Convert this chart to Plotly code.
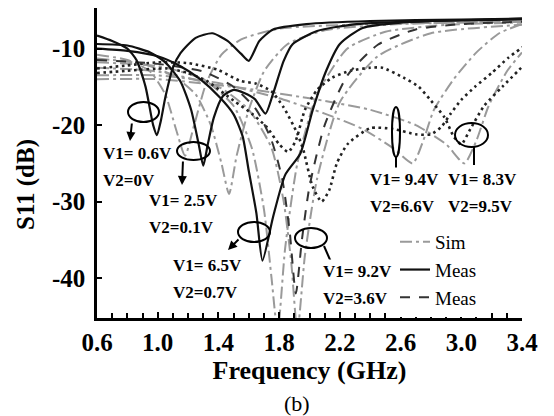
import plotly.graph_objects as go

# ---------------- data ----------------
# Measured, solid black
m1_f = [0.6, 0.7, 0.8, 0.86, 0.92, 0.97, 0.995, 1.02, 1.05, 1.1, 1.15, 1.25, 1.36, 1.46, 1.55, 1.6, 1.67, 1.76, 1.98, 2.4, 3.0, 3.4]
m1_db = [-8.3, -9.0, -10.0, -11.5, -15.0, -20.0, -21.3, -19.5, -16.4, -12.5, -10.6, -8.6, -8.0, -9.0, -10.7, -11.6, -9.0, -7.5, -6.8, -6.4, -6.2, -6.1]

m2_f = [0.6, 0.8, 0.95, 1.05, 1.15, 1.22, 1.27, 1.3, 1.33, 1.37, 1.43, 1.5, 1.57, 1.64, 1.71, 1.76, 1.83, 1.89, 2.05, 2.31, 2.8, 3.4]
m2_db = [-9.4, -9.6, -10.5, -11.8, -14.3, -18.0, -22.5, -25.3, -22.5, -19.0, -16.2, -15.4, -15.8, -16.6, -18.5, -15.9, -11.6, -9.4, -7.7, -6.8, -6.4, -6.2]

m3_f = [0.6, 0.8, 1.0, 1.15, 1.28, 1.41, 1.5, 1.56, 1.6, 1.65, 1.69, 1.76, 1.84, 1.94, 2.02, 2.11, 2.2, 2.35, 2.6, 3.0, 3.4]
m3_db = [-10.0, -10.3, -11.0, -12.3, -14.0, -16.4, -18.6, -21.5, -26.0, -31.5, -37.7, -32.0, -26.5, -23.7, -18.1, -12.9, -9.4, -7.3, -6.6, -6.3, -6.1]

# Measured, black dashed
k1_f = [0.6, 1.0, 1.3, 1.5, 1.65, 1.75, 1.82, 1.87, 1.91, 1.95, 2.0, 2.1, 2.25, 2.45, 2.7, 3.0, 3.4]
k1_db = [-11.5, -12.0, -13.0, -15.0, -18.0, -22.0, -27.0, -34.0, -42.0, -35.0, -28.0, -20.0, -13.5, -9.5, -7.5, -6.8, -6.5]

# Measured, black dotted
da_f = [0.6, 0.8, 1.0, 1.2, 1.4, 1.54, 1.65, 1.75, 1.83, 1.92, 1.96, 2.02, 2.08, 2.13, 2.18, 2.25, 2.4, 2.55, 2.7, 2.8, 2.87, 2.93, 3.0, 3.09, 3.2, 3.31, 3.42]
da_db = [-12.6, -12.2, -11.8, -11.9, -12.8, -14.2, -14.6, -15.6, -17.7, -21.1, -23.3, -28.0, -30.0, -28.5, -25.0, -22.5, -20.4, -20.5, -21.2, -21.2, -20.2, -18.5, -16.7, -15.0, -13.2, -11.2, -9.6]

db_f = [0.6, 0.8, 1.06, 1.2, 1.32, 1.5, 1.62, 1.72, 1.8, 1.86, 1.91, 1.97, 2.05, 2.15, 2.27, 2.4, 2.48, 2.62, 2.72, 2.8, 2.89, 2.95, 3.0, 3.06, 3.15, 3.27, 3.42]
db_db = [-13.2, -12.9, -12.6, -13.2, -14.2, -16.8, -18.5, -20.3, -22.5, -23.5, -22.0, -18.0, -15.4, -13.8, -12.9, -12.5, -12.5, -13.8, -15.0, -16.8, -19.0, -21.5, -22.5, -20.5, -17.5, -15.0, -12.0]

# Simulated, grey dash-dot
s1_f = [0.6, 0.8, 0.95, 1.05, 1.12, 1.18, 1.24, 1.32, 1.42, 1.55, 1.8, 2.4, 3.4]
s1_db = [-10.8, -11.5, -13.0, -16.0, -20.5, -24.0, -20.0, -14.5, -10.8, -8.8, -7.4, -6.8, -6.5]
s2_f = [0.6, 0.9, 1.1, 1.25, 1.35, 1.42, 1.47, 1.52, 1.6, 1.7, 1.85, 2.1, 2.6, 3.4]
s2_db = [-11.3, -12.0, -13.5, -16.0, -20.0, -25.0, -29.0, -24.0, -18.0, -13.0, -9.5, -7.6, -6.8, -6.5]
s3_f = [0.6, 1.0, 1.3, 1.5, 1.62, 1.7, 1.75, 1.79, 1.84, 1.92, 2.05, 2.25, 2.5, 2.9, 3.4]
s3_db = [-11.8, -12.3, -14.0, -17.5, -23.0, -31.0, -40.0, -47.0, -36.0, -25.0, -16.0, -10.0, -7.8, -6.9, -6.6]
s4_f = [0.6, 1.0, 1.4, 1.6, 1.75, 1.83, 1.88, 1.92, 1.97, 2.05, 2.2, 2.45, 2.8, 3.4]
s4_db = [-12.5, -13.0, -15.0, -18.0, -23.0, -30.0, -38.0, -47.0, -37.0, -27.0, -17.0, -11.0, -8.0, -6.9]
s5_f = [0.6, 1.0, 1.4, 1.8, 2.1, 2.35, 2.55, 2.68, 2.75, 2.82, 2.95, 3.1, 3.25, 3.4]
s5_db = [-13.5, -13.5, -14.5, -16.5, -18.5, -20.5, -23.0, -25.0, -22.0, -18.0, -14.0, -10.5, -8.0, -6.8]
s6_f = [0.6, 1.0, 1.5, 2.0, 2.4, 2.7, 2.9, 3.02, 3.1, 3.18, 3.3, 3.4]
s6_db = [-14.0, -14.0, -15.0, -16.5, -18.0, -20.0, -22.5, -25.0, -22.0, -17.5, -13.0, -10.5]

x_ticks = [0.6, 1.0, 1.4, 1.8, 2.2, 2.6, 3.0, 3.4]
x_tick_text = ["0.6", "1.0", "1.4", "1.8", "2.2", "2.6", "3.0", "3.4"]
y_ticks = [-10, -20, -30, -40]
y_tick_text = ["-10", "-20", "-30", "-40"]

labels = [
    ("V1= 0.6V", "V2=0V", 100, 153),
    ("V1= 2.5V", "V2=0.1V", 146, 200),
    ("V1= 6.5V", "V2=0.7V", 170, 265),
    ("V1= 9.2V", "V2=3.6V", 320, 271),
    ("V1= 9.4V", "V2=6.6V", 367, 179),
    ("V1= 8.3V", "V2=9.5V", 445, 179),
]

# ---------------- geometry helpers ----------------
X0, X1 = 0.6, 3.4
Y0, Y1 = -45.2, -4.7
L, R, T, B = 97, 522, 8, 318
W, H = 554, 416


def fx(px):
    return X0 + (px - L) / (R - L) * (X1 - X0)


def fy(py):
    return Y1 - (py - T) / (B - T) * (Y1 - Y0)


SERIF = "Liberation Serif"
SIM_C = "#9a9a9a"
SIM_DASH = "12px,4px,3px,4px"


def bold(size):
    return dict(family=SERIF, size=size, color="black", weight="bold")


fig = go.Figure()

for i, (f, d) in enumerate([(s1_f, s1_db), (s2_f, s2_db), (s3_f, s3_db),
                            (s4_f, s4_db), (s5_f, s5_db), (s6_f, s6_db)]):
    fig.add_trace(go.Scatter(x=f, y=d, mode="lines", name="Sim",
                             line=dict(color=SIM_C, width=2, dash=SIM_DASH, shape="spline", smoothing=0.6),
                             showlegend=(i == 0), legendrank=1))

for f, d in [(da_f, da_db), (db_f, db_db)]:
    fig.add_trace(go.Scatter(x=f, y=d, mode="lines", name="Meas",
                             line=dict(color="#222", width=2.6, dash="2.6px,3.6px", shape="spline", smoothing=0.6),
                             showlegend=False))

fig.add_trace(go.Scatter(x=k1_f, y=k1_db, mode="lines", name="Meas",
                         line=dict(color="#333", width=2, dash="10px,9px", shape="spline", smoothing=0.6),
                         showlegend=True, legendrank=3))

for i, (f, d) in enumerate([(m1_f, m1_db), (m2_f, m2_db), (m3_f, m3_db)]):
    fig.add_trace(go.Scatter(x=f, y=d, mode="lines", name="Meas",
                             line=dict(color="#111", width=2.2, shape="spline", smoothing=0.6),
                             showlegend=(i == 0), legendrank=2))

# ellipses around the resonances
ellipses = [(128, 159, 102, 122), (177, 210, 142, 160), (238, 270, 222, 242),
            (295, 327, 228, 248), (392, 400, 107, 157), (455, 488, 123, 147)]
shapes = []
for (a, b, c, d) in ellipses:
    shapes.append(dict(type="circle", xref="x", yref="y", x0=fx(a), x1=fx(b), y0=fy(d), y1=fy(c),
                       line=dict(color="black", width=2)))
# plain connector lines
for (a, c, b, d) in [(324, 246, 331, 262), (396, 157, 396, 168), (474, 147, 474, 165)]:
    shapes.append(dict(type="line", xref="x", yref="y", x0=fx(a), y0=fy(c), x1=fx(b), y1=fy(d),
                       line=dict(color="black", width=2)))

annotations = []
# arrows pointing at the labels
for (tx, ty, hx, hy) in [(132, 122, 130, 141), (183, 160, 182, 185), (240, 238, 228, 250)]:
    annotations.append(dict(x=fx(hx), y=fy(hy), ax=fx(tx), ay=fy(ty), xref="x", yref="y",
                            axref="x", ayref="y", text="", showarrow=True, arrowhead=2,
                            arrowsize=0.9, arrowwidth=2, arrowcolor="black"))

for (l1, l2, px, py) in labels:
    for txt, yy in [(l1, py), (l2, py + 27)]:
        annotations.append(dict(x=fx(px), y=fy(yy), xref="x", yref="y", text=txt,
                                showarrow=False, xanchor="left", yanchor="middle", bgcolor="white",
                                borderpad=2, font=bold(17)))

# y-axis title (placed slightly below the plot centre, as in the original)
annotations.append(dict(x=(26 - L) / (R - L), y=(B - 185) / (B - T), xref="paper", yref="paper",
                        text="S11 (dB)", textangle=-90, showarrow=False, xanchor="center",
                        yanchor="middle", font=bold(25)))

annotations.append(dict(x=(297 - L) / (R - L), y=(B - 403) / (B - T), xref="paper", yref="paper",
                        text="(b)", showarrow=False, xanchor="center", yanchor="middle",
                        font=dict(family=SERIF, size=22, color="black")))

fig.update_layout(
    width=W, height=H,
    margin=dict(l=L, r=W - R, t=T, b=H - B),
    paper_bgcolor="white", plot_bgcolor="white",
    font=dict(family=SERIF, color="black"),
    shapes=shapes, annotations=annotations,
    legend=dict(x=(395 - L) / (R - L), y=(B - 223) / (B - T), xanchor="left", yanchor="top",
                bgcolor="white", font=dict(family=SERIF, size=19, color="black"),
                tracegroupgap=0, itemwidth=30),
    xaxis=dict(range=[X0, X1], tickvals=x_ticks, ticktext=x_tick_text,
               ticks="inside", ticklen=6, tickwidth=2, tickcolor="black", showline=True, linewidth=2.5,
               linecolor="black", showgrid=False, zeroline=False,
               minor=dict(dtick=0.1, tick0=0.6, ticks="inside", ticklen=5, tickwidth=1.5, tickcolor="black"),
               tickfont=bold(25),
               title=dict(text="Frequency (GHz)", standoff=4, font=bold(26))),
    yaxis=dict(range=[Y0, Y1], tickvals=y_ticks, ticktext=y_tick_text,
               ticks="inside", ticklen=5, tickwidth=2, tickcolor="black", showline=True, linewidth=2.5,
               linecolor="black", showgrid=False, zeroline=False, ticklabelstandoff=4,
               tickfont=bold(25)),
)

fig.write_html("out.html")
